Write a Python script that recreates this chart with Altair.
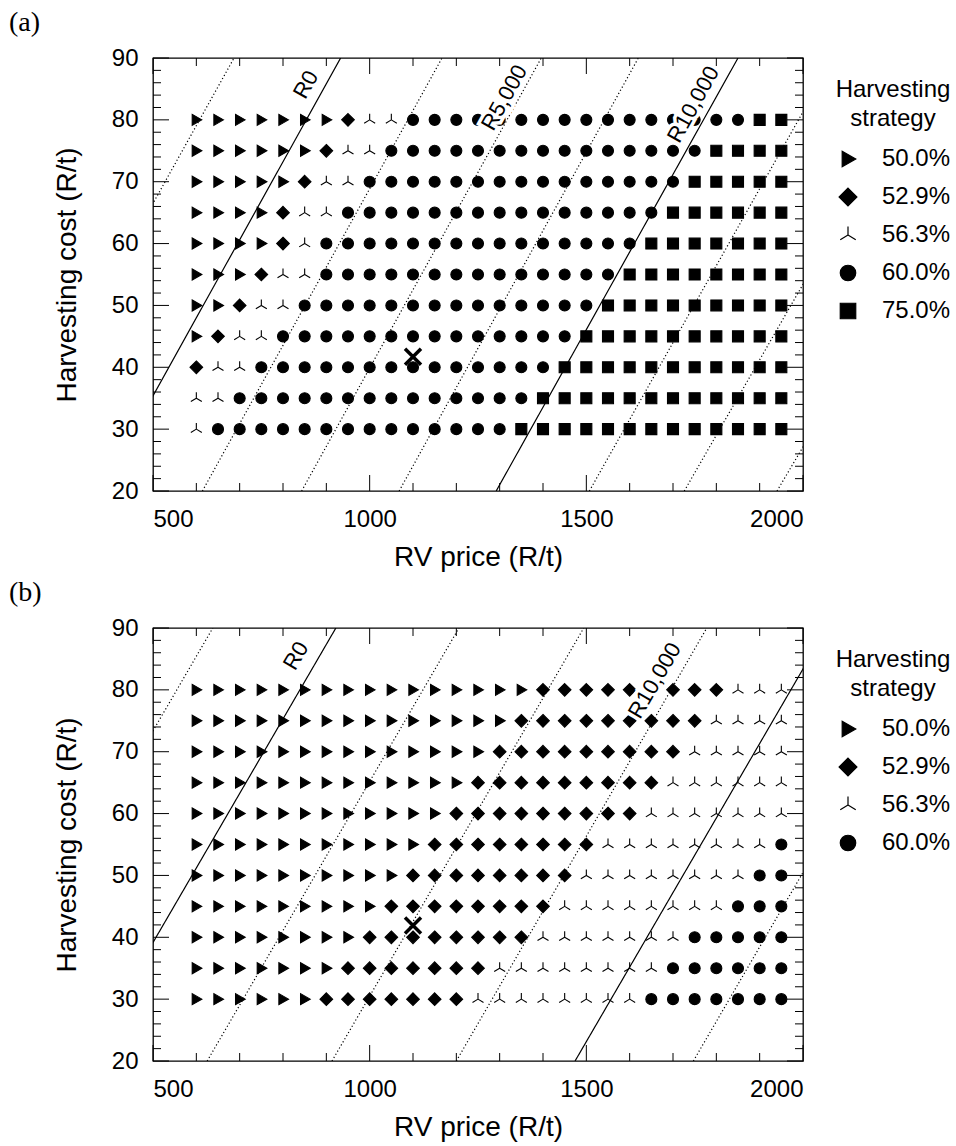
import altair as alt
import pandas as pd

FONT = "Liberation Sans"
SERIF = "Liberation Serif"

# ---------------- data ----------------
PRICES = [600, 650, 700, 750, 800, 850, 900, 950, 1000, 1050, 1100, 1150, 1200, 1250,
          1300, 1350, 1400, 1450, 1500, 1550, 1600, 1650, 1700, 1750, 1800, 1850, 1900, 1950]
COSTS = [80, 75, 70, 65, 60, 55, 50, 45, 40, 35, 30]

CODES = {"T": "50.0%", "D": "52.9%", "Y": "56.3%", "C": "60.0%", "S": "75.0%"}
STRATEGIES_A = ["50.0%", "52.9%", "56.3%", "60.0%", "75.0%"]
STRATEGIES_B = ["50.0%", "52.9%", "56.3%", "60.0%"]

# one string per cost row (80 .. 30), one letter per RV price column (600 .. 1950)
GRID_A = [
    "TTTTTTTDYYCCCCCCCCCCCCCCCCSS",
    "TTTTTTDYYCCCCCCCCCCCCCCCSSSS",
    "TTTTTDYYCCCCCCCCCCCCCCCSSSSS",
    "TTTTDYYCCCCCCCCCCCCCCCSSSSSS",
    "TTTTDYCCCCCCCCCCCCCCCSSSSSSS",
    "TTTDYYCCCCCCCCCCCCCCSSSSSSSS",
    "TTDYYCCCCCCCCCCCCCCSSSSSSSSS",
    "TDYYCCCCCCCCCCCCCCSSSSSSSSSS",
    "DYYCCCCCCCCCCCCCCSSSSSSSSSSS",
    "YYCCCCCCCCCCCCCCSSSSSSSSSSSS",
    "YCCCCCCCCCCCCCCSSSSSSSSSSSSS",
]
GRID_B = [
    "TTTTTTTTTTTTTTTTDDDDDDDDDYYY",
    "TTTTTTTTTTTTTTTDDDDDDDDDYYYY",
    "TTTTTTTTTTTTTTDDDDDDDDDYYYYY",
    "TTTTTTTTTTTTTDDDDDDDDDYYYYYY",
    "TTTTTTTTTTTTDDDDDDDDDYYYYYYY",
    "TTTTTTTTTTTDDDDDDDDYYYYYYYYC",
    "TTTTTTTTTTDDDDDDDDYYYYYYYYCC",
    "TTTTTTTTTDDDDDDDDYYYYYYYYCCC",
    "TTTTTTTTDDDDDDDDYYYYYYYCCCCC",
    "TTTTTTTDDDDDDDYYYYYYYYCCCCCC",
    "TTTTTTDDDDDDDYYYYYYYYCCCCCCC",
]

# current situation (cross)
CROSS_A = {"price": [1100], "cost": [41.7]}
CROSS_B = {"price": [1100], "cost": [41.9]}

# profit contour lines: RV price where each line meets cost 90 and cost 20
CONTOUR_A_STYLE = ["dotted", "solid", "dotted", "dotted", "dotted", "solid", "dotted", "dotted", "dotted"]
CONTOUR_A_P90 = [687, 933, 1167, 1396, 1620, 1850, 2070, 2300, 2530]
CONTOUR_A_P20 = [130, 378, 614, 843, 1068, 1292, 1507, 1726, 1940]
CONTOUR_B_STYLE = ["dotted", "solid", "dotted", "dotted", "dotted", "solid", "dotted"]
CONTOUR_B_P90 = [638, 922, 1206, 1494, 1778, 2055, 2328]
CONTOUR_B_P20 = [57, 341, 625, 913, 1200, 1474, 1747]

LABELS_A = {"text": ["R0", "R5,000", "R10,000"], "price": [853, 1311, 1747], "cost": [85.7, 83.6, 82.5]}
LABELS_B = {"text": ["R0", "R10,000"], "price": [830, 1658], "cost": [85.5, 81.5]}

X_LABELS = [500, 1000, 1500, 2000]
X_MINOR = [600, 700, 800, 900, 1100, 1200, 1300, 1400, 1600, 1700, 1800, 1900]
Y_LABELS = [20, 30, 40, 50, 60, 70, 80, 90]
Y_MINOR = [22, 24, 26, 28, 32, 34, 36, 38, 42, 44, 46, 48, 52, 54, 56, 58,
           62, 64, 66, 68, 72, 74, 76, 78, 82, 84, 86, 88]

SHAPES = {
    "50.0%": "M1,0L-0.75,-1L-0.75,1Z",
    "52.9%": "M0,-1.15L1.15,0L0,1.15L-1.15,0Z",
    "56.3%": "M0,0L0,-1.1M0,0L-1,0.6M0,0L1,0.6",
    "60.0%": "circle",
    "75.0%": "square",
}

W, H = 650, 433
MAJ, MIN = 16, 8

xscale = alt.Scale(domain=[500, 2000], nice=False, zero=False)
yscale = alt.Scale(domain=[20, 90], nice=False, zero=False)
xaxis = alt.Axis(values=X_LABELS, format="d", ticks=False, tickSize=0, domain=False, grid=False,
                 labelFont=FONT, labelFontSize=24, labelColor="black", labelPadding=16,
                 title="RV price (R/t)", titleFont=FONT, titleFontSize=28, titleFontWeight="normal",
                 titleColor="black", titlePadding=12)
yaxis = alt.Axis(values=Y_LABELS, format="d", ticks=False, tickSize=0, domain=False, grid=False,
                 labelFont=FONT, labelFontSize=24, labelColor="black", labelPadding=15,
                 title="Harvesting cost (R/t)", titleFont=FONT, titleFontSize=28,
                 titleFontWeight="normal", titleColor="black", titlePadding=30)


def legend():
    return alt.Legend(
        title=["Harvesting", "strategy"], titleFont=FONT, titleFontSize=24,
        titleFontWeight="normal", titleColor="black", titleAlign="center",
        titleAnchor="middle", titleLineHeight=29, titlePadding=16,
        labelFont=FONT, labelFontSize=24, labelColor="black", labelOffset=22,
        symbolSize=240, symbolStrokeWidth=1.2, symbolStrokeColor="black",
        symbolFillColor="black", rowPadding=14, padding=0,
        orient="none", legendX=683, legendY=20)


def grid_frame(grid):
    rows = []
    for cost, line in zip(COSTS, grid):
        assert len(line) == len(PRICES), (cost, len(line))
        for price, code in zip(PRICES, line):
            rows.append({"price": price, "cost": cost, "strategy": CODES[code]})
    return pd.DataFrame(rows)


def contour_frame(styles, p90, p20):
    rows = []
    for i, (s, a, b) in enumerate(zip(styles, p90, p20)):
        rows.append({"line": i, "style": s, "price": a, "cost": 90})
        rows.append({"line": i, "style": s, "price": b, "cost": 20})
    return pd.DataFrame(rows)


def tick_layers():
    layers = []
    for vals, ln in ((X_LABELS, MAJ), (X_MINOR, MIN)):
        d = pd.DataFrame({"price": vals})
        enc_x = alt.X("price:Q", scale=xscale, axis=xaxis)
        layers.append(alt.Chart(d).mark_rule(color="black", strokeWidth=1).encode(
            x=enc_x, y=alt.value(H), y2=alt.value(H - ln)))
        layers.append(alt.Chart(d).mark_rule(color="black", strokeWidth=1).encode(
            x=enc_x, y=alt.value(0), y2=alt.value(ln)))
    for vals, ln in ((Y_LABELS, MAJ), (Y_MINOR, MIN)):
        d = pd.DataFrame({"cost": vals})
        enc_y = alt.Y("cost:Q", scale=yscale, axis=yaxis)
        layers.append(alt.Chart(d).mark_rule(color="black", strokeWidth=1).encode(
            y=enc_y, x=alt.value(0), x2=alt.value(ln)))
        layers.append(alt.Chart(d).mark_rule(color="black", strokeWidth=1).encode(
            y=enc_y, x=alt.value(W), x2=alt.value(W - ln)))
    return layers


def panel(grid, strategies, cstyle, c90, c20, labels, angle, cross, tag):
    df = grid_frame(grid)
    cdf = contour_frame(cstyle, c90, c20)
    ldf = pd.DataFrame(labels)
    xdf = pd.DataFrame(cross)
    enc_x = alt.X("price:Q", scale=xscale, axis=xaxis)
    enc_y = alt.Y("cost:Q", scale=yscale, axis=yaxis)

    lines = alt.Chart(cdf).mark_line(clip=True, color="black", strokeWidth=1.2).encode(
        x=enc_x, y=enc_y, detail="line:N",
        strokeDash=alt.StrokeDash("style:N", scale=alt.Scale(domain=["solid", "dotted"],
                                                            range=[[1, 0], [1.2, 2.4]]), legend=None),
    )
    pts = alt.Chart(df).mark_point(filled=False, fill="black", fillOpacity=1, strokeWidth=1.1,
                                   opacity=1, size=121).encode(
        x=enc_x, y=enc_y,
        shape=alt.Shape("strategy:N",
                        scale=alt.Scale(domain=strategies, range=[SHAPES[s] for s in strategies]),
                        legend=legend()),
        color=alt.Color("strategy:N",
                        scale=alt.Scale(domain=strategies, range=["black"] * len(strategies)),
                        legend=legend()),
    )
    halo = alt.Chart(ldf).mark_text(angle=angle, font=FONT, fontSize=22, fill="white",
                                    stroke="white", strokeWidth=7).encode(
        x=enc_x, y=enc_y, text="text:N")
    txt = alt.Chart(ldf).mark_text(angle=angle, font=FONT, fontSize=22, color="black").encode(
        x=enc_x, y=enc_y, text="text:N")
    cross_m = alt.Chart(xdf).mark_point(shape="M-1,-1L1,1M-1,1L1,-1", size=256, filled=False,
                                        stroke="black", strokeWidth=3.5, opacity=1).encode(
        x=enc_x, y=enc_y)
    tagm = alt.Chart(pd.DataFrame({"t": [tag]})).mark_text(
        font=SERIF, fontSize=28, color="black", align="left", baseline="middle").encode(
        x=alt.value(-144), y=alt.value(-35), text="t:N")
    return alt.layer(lines, pts, halo, txt, cross_m, tagm, *tick_layers()).properties(
        width=W, height=H)


pa = panel(GRID_A, STRATEGIES_A, CONTOUR_A_STYLE, CONTOUR_A_P90, CONTOUR_A_P20,
           LABELS_A, 299, CROSS_A, "(a)")
pb = panel(GRID_B, STRATEGIES_B, CONTOUR_B_STYLE, CONTOUR_B_P90, CONTOUR_B_P20,
           LABELS_B, 300, CROSS_B, "(b)")

chart = alt.vconcat(pa, pb, spacing=6).resolve_scale(
    shape="independent", color="independent").properties(
    padding={"left": 8, "top": 8, "right": 0, "bottom": 0}, background="white"
).configure_view(stroke="black", strokeWidth=1.3)

chart.save("out.html", embed_options={"renderer": "svg", "actions": False})
